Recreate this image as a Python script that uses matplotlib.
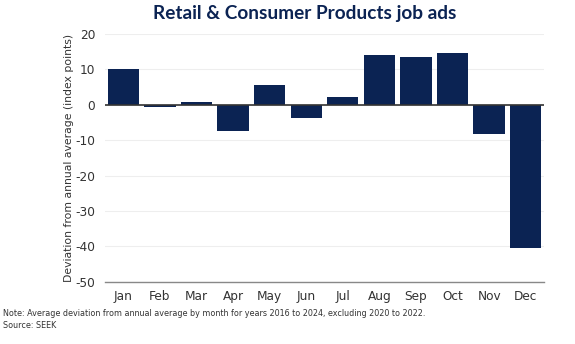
import matplotlib
matplotlib.use("Agg")
import matplotlib.pyplot as plt

months = ["Jan", "Feb", "Mar", "Apr", "May", "Jun", "Jul", "Aug", "Sep", "Oct", "Nov", "Dec"]
deviation = [10.0, -0.5, 0.8, -7.4, 5.6, -3.6, 2.2, 14.2, 13.4, 14.5, -8.4, -40.6]
y_ticks = [20, 10, 0, -10, -20, -30, -40, -50]

navy = "#0b2353"
text_grey = "#333333"
plt.rcParams["font.family"] = ["DejaVu Sans"]

W, H = 575, 344
fig = plt.figure(figsize=(W / 100, H / 100), dpi=100)
ax = fig.add_axes([105 / W, 1 - 281.7 / H, (544 - 105) / W, (281.7 - 34) / H])

x = list(range(len(months)))
ax.bar(x, deviation, width=0.855, color=navy, zorder=3)

ax.set_xlim(-0.5, len(months) - 0.5)
ax.set_ylim(-50, 20)
ax.set_yticks(y_ticks)
ax.set_yticklabels([str(t) for t in y_ticks])
ax.set_xticks(x)
ax.set_xticklabels(months)

ax.grid(axis="y", color="#eeeeee", linewidth=0.8, zorder=0)
ax.axhline(0, color="#333333", linewidth=1.2, zorder=4)

for side in ["top", "right", "left"]:
    ax.spines[side].set_visible(False)
ax.spines["bottom"].set_color("#888888")
ax.spines["bottom"].set_linewidth(1.0)

ax.tick_params(axis="both", length=0, labelsize=8.7, colors=text_grey)
ax.tick_params(axis="x", pad=6)
ax.tick_params(axis="y", pad=7)

ax.set_ylabel("Deviation from annual average (index points)", fontsize=7.8,
              color=text_grey, labelpad=1)

fig.text(305 / W, 1 - 13 / H, "Retail & Consumer Products job ads",
         ha="center", va="center", fontsize=13.7, fontweight="bold",
         color=navy, family=["Lato", "DejaVu Sans"])

fig.text(3 / W, 1 - 313 / H,
         "Note: Average deviation from annual average by month for years 2016 to 2024, excluding 2020 to 2022.",
         ha="left", va="center", fontsize=5.8, color=text_grey)
fig.text(3 / W, 1 - 325 / H, "Source: SEEK",
         ha="left", va="center", fontsize=5.8, color=text_grey)

fig.savefig("out.png", dpi=100)
